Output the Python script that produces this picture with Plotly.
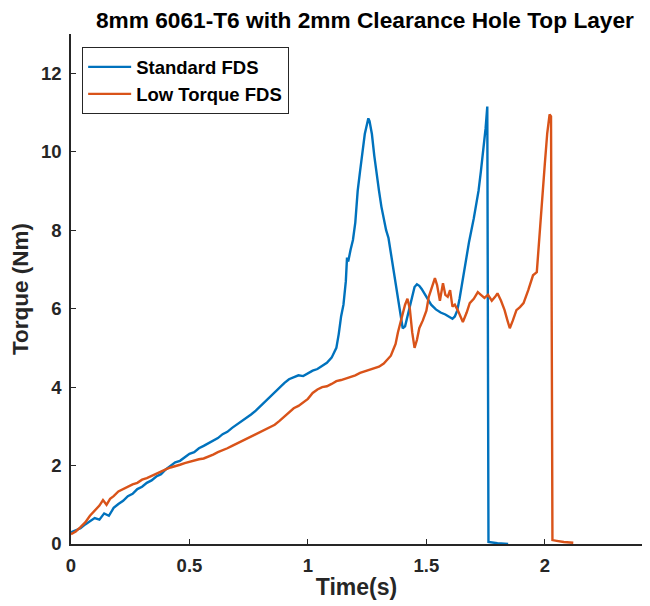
import plotly.graph_objects as go

# Standard FDS
std_t = [0.00, 0.02, 0.04, 0.06, 0.08, 0.10, 0.12, 0.14, 0.16, 0.18, 0.20, 0.22, 0.24, 0.26, 0.28,
         0.30, 0.32, 0.34, 0.36, 0.38, 0.40, 0.42, 0.44, 0.46, 0.48, 0.50, 0.52, 0.54, 0.56, 0.58,
         0.60, 0.62, 0.64, 0.66, 0.68, 0.70, 0.72, 0.74, 0.76, 0.78, 0.80, 0.82, 0.84, 0.86, 0.88,
         0.90, 0.92, 0.94, 0.96, 0.98, 1.00, 1.02, 1.04, 1.06, 1.08, 1.10, 1.12, 1.13, 1.14, 1.15,
         1.16, 1.165, 1.17, 1.18, 1.19, 1.20, 1.21, 1.22, 1.23, 1.24, 1.25, 1.255, 1.26, 1.27, 1.28,
         1.29, 1.30, 1.31, 1.32, 1.33, 1.34, 1.35, 1.36, 1.37, 1.38, 1.39, 1.40, 1.41, 1.42, 1.43,
         1.44, 1.45, 1.46, 1.47, 1.48, 1.50, 1.52, 1.54, 1.56, 1.58, 1.60, 1.61, 1.62, 1.63, 1.64,
         1.66, 1.68, 1.70, 1.72, 1.73, 1.74, 1.75, 1.757, 1.759, 1.762, 1.80, 1.845]
std_v = [0.30, 0.36, 0.40, 0.50, 0.58, 0.66, 0.62, 0.78, 0.72, 0.92, 1.02, 1.10, 1.22, 1.28, 1.40,
         1.46, 1.56, 1.62, 1.72, 1.78, 1.90, 1.98, 2.08, 2.12, 2.22, 2.30, 2.34, 2.44, 2.50, 2.56,
         2.64, 2.70, 2.80, 2.86, 2.96, 3.04, 3.12, 3.22, 3.30, 3.40, 3.52, 3.62, 3.74, 3.86, 3.98,
         4.10, 4.20, 4.24, 4.30, 4.28, 4.36, 4.42, 4.46, 4.55, 4.62, 4.75, 5.00, 5.35, 5.80, 6.10,
         6.70, 7.30, 7.20, 7.50, 7.75, 8.20, 9.00, 9.50, 10.00, 10.45, 10.72, 10.85, 10.78, 10.45, 9.90,
         9.40, 9.00, 8.60, 8.25, 8.00, 7.80, 7.40, 7.00, 6.60, 6.20, 5.80, 5.50, 5.55, 5.80, 6.10,
         6.35, 6.55, 6.62, 6.58, 6.50, 6.30, 6.10, 5.98, 5.90, 5.85, 5.78, 5.74, 5.80, 5.95, 6.25,
         7.00, 7.70, 8.30, 9.00, 9.50, 10.00, 10.60, 11.15, 5.00, 0.05, 0.02, 0.00]

# Low Torque FDS
low_t = [0.00, 0.02, 0.04, 0.06, 0.08, 0.10, 0.12, 0.135, 0.15, 0.165, 0.18, 0.20, 0.22, 0.24, 0.26,
         0.28, 0.30, 0.32, 0.34, 0.36, 0.38, 0.40, 0.42, 0.44, 0.46, 0.48, 0.50, 0.52, 0.54, 0.56,
         0.58, 0.60, 0.62, 0.64, 0.66, 0.68, 0.70, 0.72, 0.74, 0.76, 0.78, 0.80, 0.82, 0.84, 0.86,
         0.88, 0.90, 0.92, 0.94, 0.96, 0.98, 1.00, 1.02, 1.04, 1.06, 1.08, 1.10, 1.12, 1.14, 1.16,
         1.18, 1.20, 1.22, 1.24, 1.26, 1.28, 1.30, 1.32, 1.34, 1.35, 1.36, 1.37, 1.38, 1.39, 1.40,
         1.41, 1.42, 1.43, 1.44, 1.45, 1.46, 1.47, 1.485, 1.50, 1.51, 1.52, 1.536, 1.545, 1.557, 1.57,
         1.58, 1.59, 1.60, 1.61, 1.62, 1.633, 1.645, 1.654, 1.67, 1.683, 1.70, 1.717, 1.73, 1.745, 1.76,
         1.776, 1.79, 1.80, 1.815, 1.83, 1.842, 1.852, 1.865, 1.88, 1.895, 1.91, 1.93, 1.95, 1.966, 1.98,
         1.99, 2.00, 2.01, 2.02, 2.026, 2.028, 2.032, 2.05, 2.08, 2.12]
low_v = [0.25, 0.32, 0.43, 0.55, 0.72, 0.86, 0.98, 1.12, 1.00, 1.15, 1.22, 1.34, 1.40, 1.48, 1.52,
         1.56, 1.64, 1.68, 1.74, 1.78, 1.84, 1.90, 1.95, 1.98, 2.02, 2.06, 2.10, 2.12, 2.16, 2.18,
         2.22, 2.28, 2.34, 2.38, 2.44, 2.50, 2.56, 2.60, 2.68, 2.72, 2.80, 2.86, 2.92, 2.98, 3.04,
         3.14, 3.24, 3.36, 3.46, 3.52, 3.60, 3.70, 3.85, 3.94, 4.00, 4.02, 4.08, 4.15, 4.18, 4.22,
         4.28, 4.30, 4.36, 4.40, 4.46, 4.50, 4.52, 4.60, 4.72, 4.80, 4.95, 5.10, 5.40, 5.65, 5.90,
         6.10, 6.25, 6.00, 5.40, 5.00, 5.20, 5.50, 5.70, 5.95, 6.30, 6.50, 6.78, 6.60, 6.20, 6.65,
         6.35, 6.30, 6.47, 6.05, 6.10, 5.95, 5.80, 5.66, 5.90, 6.14, 6.25, 6.42, 6.35, 6.27, 6.35,
         6.20, 6.30, 6.39, 6.20, 5.96, 5.70, 5.50, 5.70, 5.96, 6.04, 6.14, 6.47, 6.85, 6.93, 8.18,
         9.00, 9.70, 10.47, 10.95, 10.90, 5.00, 0.10, 0.08, 0.05, 0.03]

x_ticks = [0, 0.5, 1, 1.5, 2]
x_ticktext = ["0", "0.5", "1", "1.5", "2"]
y_ticks = [0, 2, 4, 6, 8, 10, 12]

BLUE = "#0072BD"
ORANGE = "#D95319"
FONT = "Liberation Sans, Arial, sans-serif"
INK = "#262626"

fig = go.Figure()
fig.add_trace(go.Scatter(x=std_t, y=std_v, mode="lines", name="Standard FDS",
                         line=dict(color=BLUE, width=2.4)))
fig.add_trace(go.Scatter(x=low_t, y=low_v, mode="lines", name="Low Torque FDS",
                         line=dict(color=ORANGE, width=2.4)))

axis_common = dict(
    showline=True, linecolor=INK, linewidth=1.5, mirror=False,
    ticks="inside", ticklen=5, tickcolor=INK, tickwidth=1.3,
    showgrid=False, zeroline=False, automargin=False,
    tickfont=dict(family=FONT, size=18.5, color=INK, weight="bold"),
)

# page body has an 8px margin, so the figure is 8px smaller on each side
fig.update_layout(
    template="none",
    width=642, height=598,
    paper_bgcolor="white", plot_bgcolor="white",
    margin=dict(l=63, r=8, t=26, b=62, autoexpand=False),
    title=dict(text="8mm 6061-T6 with 2mm Clearance Hole Top Layer",
               font=dict(family=FONT, size=22.7, color="#000000", weight="bold"),
               x=0.556, xref="container", xanchor="center",
               y=0.98, yref="container", yanchor="middle"),
    xaxis=dict(range=[0, 2.41], tickvals=x_ticks, ticktext=x_ticktext,
               ticklabelstandoff=4,
               title=dict(text="Time(s)", font=dict(family=FONT, size=23, color=INK, weight="bold"),
                          standoff=4),
               **axis_common),
    yaxis=dict(range=[0, 13], tickvals=y_ticks,
               ticklabelstandoff=4,
               title=dict(text="Torque (Nm)", font=dict(family=FONT, size=22.5, color=INK, weight="bold"),
                          standoff=6),
               **axis_common),
    legend=dict(x=0.019, y=0.9745, xanchor="left", yanchor="top",
                bgcolor="white", bordercolor=INK, borderwidth=1.3,
                font=dict(family=FONT, size=18.5, color="#000000", weight="bold"),
                itemwidth=43, tracegroupgap=0),
    showlegend=True,
)

fig.write_html("out.html")
